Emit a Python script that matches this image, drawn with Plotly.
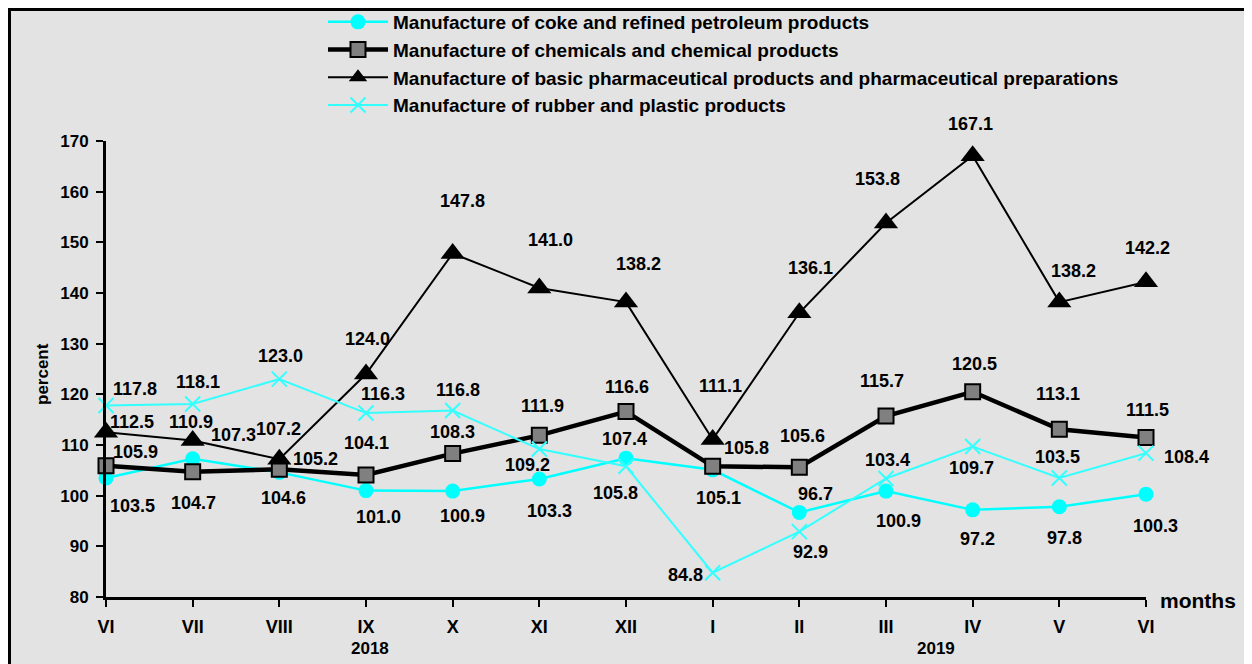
import plotly.graph_objects as go

months = ["VI", "VII", "VIII", "IX", "X", "XI", "XII", "I", "II", "III", "IV", "V", "VI"]
years = ["2018", "2019"]
series_names = [
    "Manufacture of coke and refined petroleum products",
    "Manufacture of chemicals and chemical products",
    "Manufacture of basic pharmaceutical products and pharmaceutical preparations",
    "Manufacture of rubber and plastic products",
]
coke = [103.5, 107.3, 104.6, 101.0, 100.9, 103.3, 107.4, 105.1, 96.7, 100.9, 97.2, 97.8, 100.3]
chemicals = [105.9, 104.7, 105.2, 104.1, 108.3, 111.9, 116.6, 105.8, 105.6, 115.7, 120.5, 113.1, 111.5]
pharma = [112.5, 110.9, 107.2, 124.0, 147.8, 141.0, 138.2, 111.1, 136.1, 153.8, 167.1, 138.2, 142.2]
rubber = [117.8, 118.1, 123.0, 116.3, 116.8, 109.2, 105.8, 84.8, 92.9, 103.4, 109.7, 103.5, 108.4]

# label offsets in pixels (dx right, dy down) -- layout only
off_coke = [(26, 28), (41, -24), (4, 26), (12, 26), (10, 25), (10, 32), (-2, -19),
            (6, 28), (16, -18), (12, 30), (5, 29), (5, 31), (9, 32)]
off_chem = [(29, -14), (1, 31), (36, -10), (0, -32), (0, -22), (3, -29), (1, -25),
            (34, -18), (3, -31), (-4, -35), (2, -28), (-1, -35), (1, -27)]
off_pharma = [(26, -10), (-2, -18), (-1, -30), (1, -35), (10, -52), (11, -48), (12, -38),
              (8, -53), (11, -45), (-9, -44), (-2, -32), (14, -31), (1, -34)]
off_rubber = [(29, -16), (5, -22), (1, -23), (17, -19), (5, -21), (-12, 16), (-11, 27),
              (-27, 2), (11, 20), (1, -18), (-1, 21), (-2, -21), (40, 4)]

FONT = "Liberation Sans, Arial, sans-serif"
CYAN = "#00ffff"
CYAN2 = "#33ffff"

OFF = 8  # page body margin
PL, PT, PR, PB = 106, 141, 1146, 597  # plot area in page pixels
W, H = 1244, 656
L, T = PL - OFF, PT - OFF
R, B = W - (PR - OFF), H - (PB - OFF)
PW, PH = PR - PL, PB - PT


def px_x(p):
    return (p - PL) / PW


def px_y(p):
    return (PB - p) / PH


xs = list(range(len(months)))

fig = go.Figure()
fig.add_trace(go.Scatter(
    x=xs, y=coke, name=series_names[0], mode="lines+markers",
    line=dict(color=CYAN, width=2.5),
    marker=dict(symbol="circle", size=15, color=CYAN), cliponaxis=False))
fig.add_trace(go.Scatter(
    x=xs, y=chemicals, name=series_names[1], mode="lines+markers",
    line=dict(color="black", width=4.5),
    marker=dict(symbol="square", size=15, color="#808080", line=dict(color="black", width=2)),
    cliponaxis=False))
fig.add_trace(go.Scatter(
    x=xs, y=pharma, name=series_names[2], mode="lines+markers",
    line=dict(color="black", width=2),
    marker=dict(symbol="triangle-up", size=21, color="black"), cliponaxis=False))
fig.add_trace(go.Scatter(
    x=xs, y=rubber, name=series_names[3], mode="lines+markers",
    line=dict(color=CYAN2, width=2),
    marker=dict(symbol="x-thin", size=15, color=CYAN2, line=dict(color=CYAN2, width=2)),
    cliponaxis=False))

annotations = []
for vals, offs in ((coke, off_coke), (chemicals, off_chem), (pharma, off_pharma), (rubber, off_rubber)):
    for i, (v, (dx, dy)) in enumerate(zip(vals, offs)):
        annotations.append(dict(
            x=i, y=v, xref="x", yref="y", text=f"{v:.1f}", showarrow=False,
            xshift=dx, yshift=-dy, font=dict(size=18, color="black", family=FONT, weight="bold"),
            xanchor="center", yanchor="middle"))

annotations.append(dict(x=3, y=px_y(648), xref="x", yref="paper", xshift=4, text=years[0],
                        showarrow=False, font=dict(size=17, family=FONT, weight="bold", color="black"),
                        xanchor="center", yanchor="middle"))
annotations.append(dict(x=9.5, y=px_y(648), xref="x", yref="paper", xshift=7, text=years[1],
                        showarrow=False, font=dict(size=17, family=FONT, weight="bold", color="black"),
                        xanchor="center", yanchor="middle"))
annotations.append(dict(x=px_x(1198), y=px_y(600), xref="paper", yref="paper", text="months",
                        showarrow=False, font=dict(size=21, family=FONT, weight="bold", color="black"),
                        xanchor="center", yanchor="middle"))
annotations.append(dict(x=px_x(42), y=px_y(374), xref="paper", yref="paper", text="percent",
                        textangle=-90, showarrow=False,
                        font=dict(size=17, family=FONT, weight="bold", color="black"),
                        xanchor="center", yanchor="middle"))

fig.update_layout(
    width=W, height=H,
    margin=dict(l=L, r=R, t=T, b=B, autoexpand=False),
    paper_bgcolor="white", plot_bgcolor="rgba(0,0,0,0)",
    font=dict(family=FONT, size=17, color="black", weight="bold"),
    showlegend=True,
    legend=dict(x=px_x(323), y=px_y(3), xanchor="left", yanchor="top",
                bgcolor="rgba(0,0,0,0)", borderwidth=0, itemwidth=60,
                font=dict(size=19, family=FONT, weight="bold", color="black"),
                tracegroupgap=0),
    xaxis=dict(range=[0, 12], tickvals=xs, ticktext=months, showline=True, linecolor="black",
               linewidth=3, ticks="outside", ticklen=7, tickwidth=2, tickcolor="black",
               showgrid=False, zeroline=False, fixedrange=True, ticklabelstandoff=4,
               tickfont=dict(size=18, family=FONT, weight="bold", color="black")),
    yaxis=dict(range=[80, 170], dtick=10, tick0=80, showline=True, linecolor="black",
               linewidth=3, ticks="outside", ticklen=7, tickwidth=2, tickcolor="black",
               showgrid=False, zeroline=False, fixedrange=True, ticklabelstandoff=4,
               tickfont=dict(size=17, family=FONT, weight="bold", color="black")),
    annotations=annotations,
    shapes=[dict(type="rect", xref="paper", yref="paper", layer="below",
                 x0=px_x(9.5), x1=px_x(1249), y0=px_y(675), y1=px_y(9.5),
                 fillcolor="#e3e3e3", line=dict(color="black", width=3))],
)

fig.write_html("out.html")
